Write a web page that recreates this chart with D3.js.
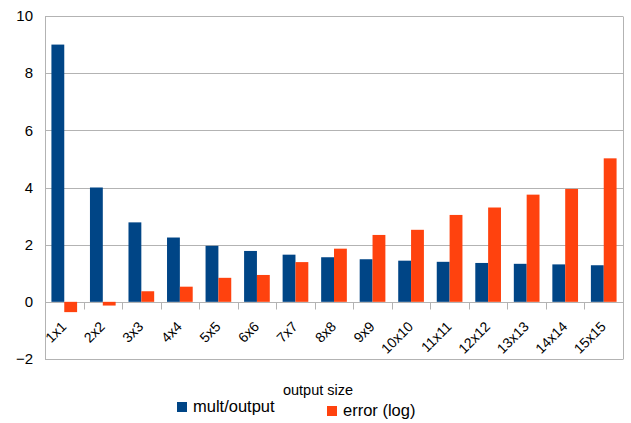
<!DOCTYPE html>
<html>
<head>
<meta charset="utf-8">
<script src="https://cdn.jsdelivr.net/npm/d3@7"></script>
<style>
  body { margin: 0; background: #fff; }
  svg { font-family: "Liberation Sans", Arial, sans-serif; }
</style>
</head>
<body>
<div id="chart"></div>
<script>
// data
var categories = ["1x1", "2x2", "3x3", "4x4", "5x5", "6x6", "7x7", "8x8",
                  "9x9", "10x10", "11x11", "12x12", "13x13", "14x14", "15x15"];
var multOutput = [9, 4, 2.78, 2.25, 1.96, 1.78, 1.65, 1.56, 1.49, 1.44, 1.4, 1.36, 1.33, 1.31, 1.28];
var errorLog   = [-0.36, -0.13, 0.37, 0.53, 0.84, 0.94, 1.39, 1.86, 2.34, 2.52, 3.04, 3.3, 3.75, 3.95, 5.02];
var seriesNames = ["mult/output", "error (log)"];
var yTicks = [-2, 0, 2, 4, 6, 8, 10];

var width = 631, height = 423;
var plotLeft = 45, plotRight = 623, plotTop = 16, plotBottom = 359;
var colors = ["#004586", "#ff420e"];

var svg = d3.select("#chart")
    .append("svg")
    .attr("width", width)
    .attr("height", height);

var x = d3.scaleBand()
    .domain(categories)
    .range([plotLeft, plotRight]);

var y = d3.scaleLinear()
    .domain([-2, 10])
    .range([plotBottom, plotTop]);

// bar slot inside each category
var barW = x.bandwidth() / 3;
var x1 = d3.scaleBand()
    .domain(seriesNames)
    .range([barW / 2, x.bandwidth() - barW / 2]);

// horizontal grid
svg.append("g")
    .selectAll("line")
    .data(yTicks)
    .enter()
    .append("line")
    .attr("x1", plotLeft)
    .attr("x2", plotRight)
    .attr("y1", function(d) { return Math.round(y(d)) + 0.5; })
    .attr("y2", function(d) { return Math.round(y(d)) + 0.5; })
    .style("stroke", "#b3b3b3")
    .style("stroke-width", 1);

// left & right frame
svg.append("g")
    .selectAll("line")
    .data([plotLeft, plotRight])
    .enter()
    .append("line")
    .attr("x1", function(d) { return d + 0.5; })
    .attr("x2", function(d) { return d + 0.5; })
    .attr("y1", Math.round(y(10)) + 0.5)
    .attr("y2", Math.round(y(-2)) + 0.5)
    .style("stroke", "#b3b3b3");

// y axis labels
var yAxis = svg.append("g")
    .attr("transform", "translate(" + plotLeft + ",0)")
    .call(d3.axisLeft(y).tickValues(yTicks).tickSize(0).tickPadding(12));
yAxis.select(".domain").remove();
yAxis.selectAll("text")
    .style("font-size", "15px")
    .style("fill", "#000")
    .style("font-family", "Liberation Sans, Arial, sans-serif");

// bars
var rows = categories.map(function(c, i) {
    return { cat: c, values: [multOutput[i], errorLog[i]] };
});

var groups = svg.selectAll(".cat")
    .data(rows)
    .enter()
    .append("g")
    .attr("class", "cat")
    .attr("transform", function(d) { return "translate(" + x(d.cat) + ",0)"; });

groups.selectAll("rect")
    .data(function(d) {
        return d.values.map(function(v, i) { return { name: seriesNames[i], value: v, i: i }; });
    })
    .enter()
    .append("rect")
    .attr("x", function(d) { return x1(d.name); })
    .attr("width", x1.bandwidth())
    .attr("y", function(d) { return y(Math.max(0, d.value)); })
    .attr("height", function(d) { return Math.abs(y(d.value) - y(0)); })
    .style("fill", function(d) { return colors[d.i]; });

// x axis at zero, ticks at category boundaries
var y0 = Math.round(y(0)) + 0.5;
svg.append("g")
    .selectAll("line")
    .data(categories.slice(1))
    .enter()
    .append("line")
    .attr("x1", function(d) { return Math.round(x(d)) + 0.5; })
    .attr("x2", function(d) { return Math.round(x(d)) + 0.5; })
    .attr("y1", y0)
    .attr("y2", y0 + 7)
    .style("stroke", "#b3b3b3");

svg.append("g")
    .selectAll("text")
    .data(categories)
    .enter()
    .append("text")
    .attr("transform", function(d) {
        return "translate(" + (x(d) + x.bandwidth() / 2 + 3) + "," + (y0 + 25) + ") rotate(-45)";
    })
    .attr("text-anchor", "end")
    .style("font-size", "14px")
    .text(function(d) { return d; });

// axis title
svg.append("text")
    .attr("x", 318)
    .attr("y", 395)
    .attr("text-anchor", "middle")
    .style("font-size", "14.5px")
    .text("output size");

// legend
var legendPos = [[177, 402], [327, 406]];
var legend = svg.selectAll(".legend")
    .data(seriesNames)
    .enter()
    .append("g")
    .attr("class", "legend")
    .attr("transform", function(d, i) { return "translate(" + legendPos[i][0] + "," + legendPos[i][1] + ")"; });

legend.append("rect")
    .attr("width", 10)
    .attr("height", 10)
    .style("fill", function(d, i) { return colors[i]; });

legend.append("text")
    .attr("x", 16)
    .attr("y", 10)
    .style("font-size", "16.5px")
    .text(function(d) { return d; });
</script>
</body>
</html>
